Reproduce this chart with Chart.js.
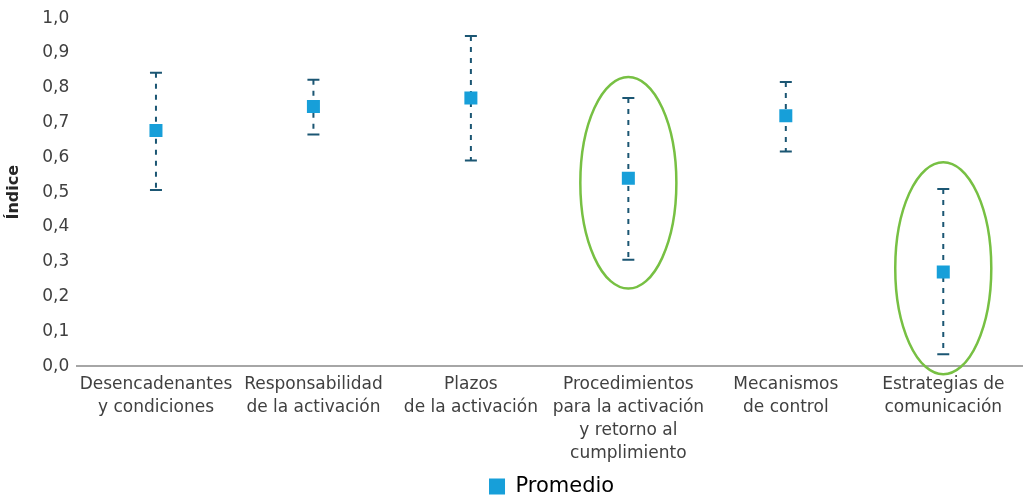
<!DOCTYPE html>
<html>
<head>
<meta charset="utf-8">
<script src="https://cdn.jsdelivr.net/npm/chart.js@4/dist/chart.umd.min.js"></script>
<style>
html,body{margin:0;padding:0;background:#fff;}
#wrap{width:1024px;height:501px;position:relative;}
</style>
</head>
<body>
<div id="wrap"><canvas id="c" width="1024" height="501"></canvas></div>
<script>
const categories = [
  ["Desencadenantes","y condiciones"],
  ["Responsabilidad","de la activación"],
  ["Plazos","de la activación"],
  ["Procedimientos","para la activación","y retorno al","cumplimiento"],
  ["Mecanismos","de control"],
  ["Estrategias de","comunicación"]
];
const promedio = [0.677, 0.746, 0.771, 0.540, 0.720, 0.271];
const upperVals = [0.843, 0.823, 0.949, 0.771, 0.817, 0.509];
const lowerVals = [0.506, 0.666, 0.591, 0.306, 0.617, 0.034];
// highlighted categories: [index, top value, bottom value]
const highlights = [[3, 0.831, 0.223], [5, 0.586, -0.023]];
const yTicks = [0,0.1,0.2,0.3,0.4,0.5,0.6,0.7,0.8,0.9,1.0];

const FONT = "'DejaVu Sans', sans-serif";

const errorBars = {
  id: 'errorBars',
  afterLayout(chart) {
    const l = chart.legend, a = chart.chartArea;
    const d = (a.left + a.right) / 2 - (l.left + l.right) / 2 + 2;
    l.left += d; l.right += d;
    l.top += 6; l.bottom += 6;
  },
  beforeDatasetsDraw(chart) {
    const ctx = chart.ctx, x = chart.scales.x, y = chart.scales.y;
    ctx.save();
    ctx.strokeStyle = '#1b5673';
    ctx.lineWidth = 2;
    promedio.forEach((v, i) => {
      const px = x.getPixelForValue(i);
      const yu = y.getPixelForValue(upperVals[i]);
      const yl = y.getPixelForValue(lowerVals[i]);
      ctx.setLineDash([5, 6]);
      ctx.beginPath(); ctx.moveTo(px, yu); ctx.lineTo(px, yl); ctx.stroke();
      ctx.setLineDash([]);
      ctx.beginPath();
      ctx.moveTo(px - 6, yu); ctx.lineTo(px + 6, yu);
      ctx.moveTo(px - 6, yl); ctx.lineTo(px + 6, yl);
      ctx.stroke();
    });
    ctx.restore();
  },
  afterDraw(chart) {
    const ctx = chart.ctx, x = chart.scales.x, y = chart.scales.y;
    ctx.save();
    ctx.strokeStyle = '#77c043';
    ctx.lineWidth = 2.5;
    const catW = x.getPixelForValue(1) - x.getPixelForValue(0);
    highlights.forEach(([i, top, bot]) => {
      const cx = x.getPixelForValue(i);
      const yt = y.getPixelForValue(top), yb = y.getPixelForValue(bot);
      ctx.beginPath();
      ctx.ellipse(cx, (yt + yb) / 2, catW * 0.305, (yb - yt) / 2, 0, 0, Math.PI * 2);
      ctx.stroke();
    });
    ctx.restore();
  }
};

new Chart(document.getElementById('c'), {
  type: 'line',
  data: {
    labels: categories,
    datasets: [{
      label: 'Promedio',
      data: promedio,
      showLine: false,
      pointStyle: 'rect',
      pointRadius: 9.2,
      pointHoverRadius: 9.2,
      backgroundColor: '#179fd9',
      borderColor: '#179fd9',
      borderWidth: 0
    }]
  },
  options: {
    responsive: false,
    animation: false,
    layout: { autoPadding: false, padding: { top: 9, right: 2, left: 4, bottom: 0 } },
    plugins: {
      tooltip: { enabled: false },
      legend: {
        position: 'bottom',
        labels: {
          font: { family: FONT, size: 21 },
          color: '#333333',
          boxWidth: 16,
          boxHeight: 16,
          padding: 1,
          generateLabels: () => [{ text: 'Promedio', fillStyle: '#179fd9', strokeStyle: '#179fd9', lineWidth: 0 }]
        }
      }
    },
    scales: {
      x: {
        offset: true,
        afterFit: (s) => { s.height -= 3; },
        grid: { display: false, drawTicks: false },
        border: { display: true, color: '#a6a6a6', width: 2 },
        ticks: {
          font: { family: FONT, size: 17, lineHeight: 1.35 },
          color: '#404040',
          padding: 7,
          maxRotation: 0,
          autoSkip: false
        }
      },
      y: {
        min: 0, max: 1,
        afterBuildTicks: (s) => { s.ticks = yTicks.map(v => ({ value: v })); },
        grid: { display: false, drawTicks: false },
        border: { display: false },
        ticks: {
          font: { family: FONT, size: 17 },
          color: '#404040',
          padding: 8,
          callback: (v) => Number(v).toFixed(1).replace('.', ',')
        },
        title: {
          display: true,
          text: 'Índice',
          font: { family: FONT, size: 16, weight: 'bold' },
          color: '#262626',
          padding: { top: 0, bottom: 11 }
        }
      }
    }
  },
  plugins: [errorBars]
});
</script>
</body>
</html>
